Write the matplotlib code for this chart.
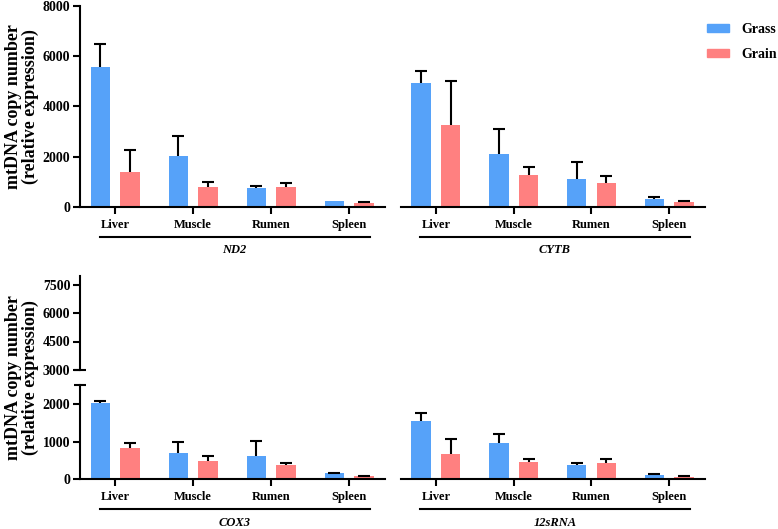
import matplotlib
matplotlib.use("Agg")
import matplotlib.pyplot as plt
import numpy as np
from matplotlib.patches import Patch
from matplotlib.transforms import blended_transform_factory

# ---------------- data ----------------
tissues = ["Liver", "Muscle", "Rumen", "Spleen"]

nd2_grass = [5580, 2010, 754, 251]
nd2_grass_err = [914, 834, 66, np.nan]
nd2_grain = [1402, 794, 794, 159]
nd2_grain_err = [873, 186, 146, 41]

cytb_grass = [4934, 2116, 1124, 331]
cytb_grass_err = [463, 1006, 675, 53]
cytb_grain = [3254, 1283, 966, 212]
cytb_grain_err = [1746, 304, 277, 39]

cox3_grass = [2018, 702, 604, 151]
cox3_grass_err = [53, 294, 400, 18]
cox3_grain = [836, 471, 382, 80]
cox3_grain_err = [124, 151, 36, 9]

s12_grass = [1547, 969, 382, 116]
s12_grass_err = [213, 222, 45, 26]
s12_grain = [658, 444, 418, 62]
s12_grain_err = [418, 80, 106, 18]

genes = ["ND2", "CYTB", "COX3", "12sRNA"]
series_labels = ["Grass", "Grain"]

# ---------------- style ----------------
BLUE = "#56A2F9"
RED = "#FF8080"
FONT = "Liberation Serif"
plt.rcParams["font.family"] = [FONT, "DejaVu Serif"]
plt.rcParams["font.weight"] = "bold"
LW = 1.5

fig = plt.figure(figsize=(7.78, 5.29), dpi=100)
W, H = 778.0, 529.0


def fx(px):
    return px / W


def fy(py):
    return 1 - py / H


def make_ax(x0, x1, ytop, ybot):
    return fig.add_axes([fx(x0), fy(ybot), fx(x1) - fx(x0), (ybot - ytop) / H])


x = np.arange(len(tissues))
OFF, BW = 0.19, 0.25
XLIM = (-0.45, 3.46)


def draw_bars(ax, g, ge, r, re):
    ekw = dict(elinewidth=LW, capthick=LW, ecolor="black")
    z = np.zeros(len(g))
    for pos, vals, err, col in [(x - OFF, g, ge, BLUE), (x + OFF, r, re, RED)]:
        bc = ax.bar(pos, vals, BW, color=col, yerr=[z, np.asarray(err, float)],
                    capsize=4, error_kw=ekw, zorder=2)
        caps = bc.errorbar.lines[1]
        if len(caps) >= 2:
            caps[0].set_visible(False)  # hide lower caps (only upper SD shown)
    ax.set_xlim(*XLIM)


def style_x(ax):
    for s in ["top", "right"]:
        ax.spines[s].set_visible(False)
    ax.spines["bottom"].set_linewidth(LW)
    ax.spines["left"].set_linewidth(LW)
    ax.set_xticks(x)
    ax.set_xticklabels(tissues, fontsize=9, fontweight="bold")
    ax.tick_params(axis="x", length=5, width=LW, pad=3.5)
    ax.tick_params(axis="y", length=5, width=LW, pad=2, labelsize=10)
    for lab in ax.get_yticklabels():
        lab.set_fontweight("bold")


def hide_y(ax):
    ax.spines["left"].set_visible(False)
    ax.set_yticks([])


def group_label(ax, gene, line_py, text_py):
    tr = blended_transform_factory(ax.transData, fig.transFigure)
    ax.plot([-0.2, 3.27], [fy(line_py), fy(line_py)], transform=tr,
            color="black", lw=LW, clip_on=False)
    ax.text(1.53, fy(text_py), gene, transform=tr, ha="center", va="center",
            fontsize=9, fontweight="bold", style="italic")


# ---- top panels ----
ax1 = make_ax(80, 385, 6, 207)
draw_bars(ax1, nd2_grass, nd2_grass_err, nd2_grain, nd2_grain_err)
ax1.set_ylim(0, 8000)
ax1.set_yticks([0, 2000, 4000, 6000, 8000])
style_x(ax1)
group_label(ax1, genes[0], 237, 250)

ax2 = make_ax(401, 705, 6, 207)
draw_bars(ax2, cytb_grass, cytb_grass_err, cytb_grain, cytb_grain_err)
ax2.set_ylim(0, 8000)
style_x(ax2)
hide_y(ax2)
group_label(ax2, genes[1], 237, 250)

# ---- bottom-left broken axis ----
ax3u = make_ax(80, 385, 275.7, 369.7)
ax3u.set_xlim(*XLIM)
ax3u.set_ylim(3000, 8000)
ax3u.set_yticks([3000, 4500, 6000, 7500])
for s in ["top", "right", "bottom"]:
    ax3u.spines[s].set_visible(False)
ax3u.spines["left"].set_linewidth(LW)
ax3u.set_xticks([])
ax3u.tick_params(axis="y", length=5, width=LW, pad=2, labelsize=10)
for lab in ax3u.get_yticklabels():
    lab.set_fontweight("bold")
ax3u.plot([0], [0], marker="_", markersize=8, mew=LW, color="black",
          transform=ax3u.transAxes, clip_on=False)

ax3 = make_ax(80, 385, 385.3, 479)
draw_bars(ax3, cox3_grass, cox3_grass_err, cox3_grain, cox3_grain_err)
ax3.set_ylim(0, 2500)
ax3.set_yticks([0, 1000, 2000])
style_x(ax3)
ax3.plot([0], [1], marker="_", markersize=8, mew=LW, color="black",
         transform=ax3.transAxes, clip_on=False)
group_label(ax3, genes[2], 509, 523)

ax4 = make_ax(401, 705, 385.3, 479)
draw_bars(ax4, s12_grass, s12_grass_err, s12_grain, s12_grain_err)
ax4.set_ylim(0, 2500)
style_x(ax4)
hide_y(ax4)
group_label(ax4, genes[3], 509, 523)

# ---- y labels ----
ylab = "mtDNA copy number\n(relative expression)"
fig.text(fx(22), fy(107), ylab, rotation=90, ha="center", va="center",
         fontsize=13, fontweight="bold", linespacing=1.0)
fig.text(fx(22), fy(378), ylab, rotation=90, ha="center", va="center",
         fontsize=13, fontweight="bold", linespacing=1.0)

# ---- legend ----
handles = [Patch(color=BLUE, label=series_labels[0]),
           Patch(color=RED, label=series_labels[1])]
fig.legend(handles=handles, loc="upper left", bbox_to_anchor=(fx(707), fy(23)),
           frameon=False, prop=dict(family=FONT, weight="bold", size=10),
           handlelength=1.6, handleheight=0.55, handletextpad=0.9,
           labelspacing=0.85, borderaxespad=0, borderpad=0)

fig.savefig("out.png", dpi=100)
